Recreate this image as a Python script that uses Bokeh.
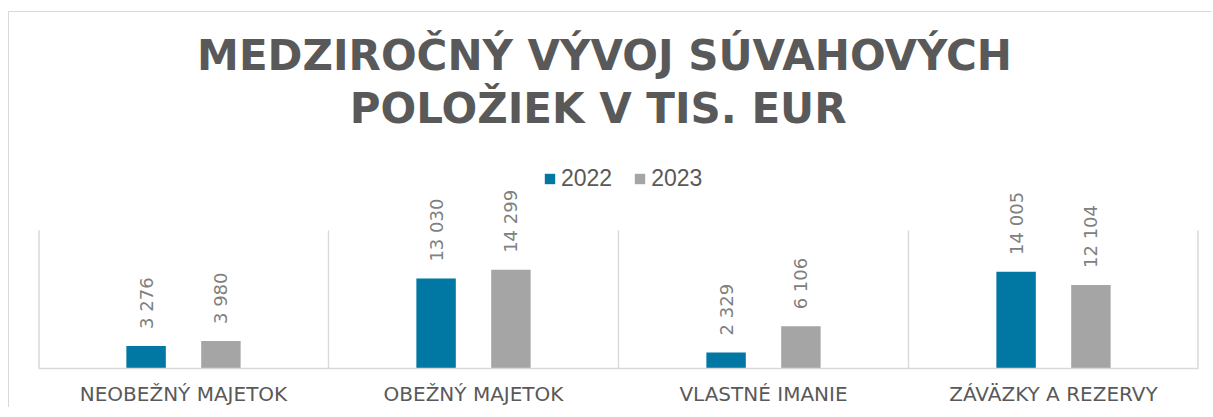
import math
from bokeh.plotting import figure
from bokeh.models import (FactorRange, Range1d, Label, LabelSet, Legend, LegendItem,
                          ColumnDataSource)
from bokeh.transform import dodge
from bokeh.embed import file_html
from bokeh.resources import INLINE
from bokeh.core.properties import value

# ---- data ----
categories = ["NEOBEŽNÝ MAJETOK", "OBEŽNÝ MAJETOK", "VLASTNÉ IMANIE", "ZÁVÄZKY A REZERVY"]
years = ["2022", "2023"]
values_2022 = [3276, 13030, 2329, 14005]
values_2023 = [3980, 14299, 6106, 12104]
title_line1 = "MEDZIROČNÝ VÝVOJ SÚVAHOVÝCH"
title_line2 = "POLOŽIEK  V TIS. EUR"
colors = ["#0078A3", "#A5A5A5"]
y_max = 20000   # top of the value axis (plot area top)


def fmt(v):
    return f"{v:,}".replace(",", " ")


src = ColumnDataSource(dict(
    cat=categories,
    v22=values_2022,
    v23=values_2023,
    t22=[fmt(v) for v in values_2022],
    t23=[fmt(v) for v in values_2023],
))

TEXT = "#595959"
GRID = "#d9d9d9"
FONT = "DejaVu Sans"

# layout (pixels)
frame_h = 351      # drawing area incl. title / legend space
plot_h = 138       # height of the value area (0..y_max)
y_end = y_max * frame_h / plot_h

p = figure(width=1203, height=396,
           x_range=FactorRange(*categories, range_padding=0),
           y_range=Range1d(0, y_end),
           output_backend="svg", toolbar_location=None,
           min_border_left=29, min_border_right=14,
           min_border_top=5, min_border_bottom=40)
p.styles = {"border-left": "1px solid #d9d9d9", "border-top": "1px solid #d9d9d9",
            "margin-top": "11px", "margin-left": "8px"}
p.outline_line_color = None
p.xgrid.grid_line_color = None
p.ygrid.grid_line_color = None
p.yaxis.visible = False
p.background_fill_color = "white"
p.border_fill_color = "white"

# category separators (incl. plot-area edges)
bounds = list(range(0, len(categories) + 1))
p.segment(x0=bounds, y0=0, x1=bounds, y1=y_max, line_color=GRID, line_width=1.4)
p.segment(x0=[0, len(categories)], y0=0, x1=[0, len(categories)], y1=y_max,
          line_color=GRID, line_width=2.6)

off = 0.129
bw = 0.136
r22 = p.vbar(x=dodge("cat", -off, range=p.x_range), top="v22", width=bw, source=src,
             fill_color=colors[0], line_color=None)
r23 = p.vbar(x=dodge("cat", off, range=p.x_range), top="v23", width=bw, source=src,
             fill_color=colors[1], line_color=None)

for col, tcol, o in (("v22", "t22", -off), ("v23", "t23", off)):
    p.add_layout(LabelSet(x=dodge("cat", o, range=p.x_range), y=col, text=tcol, source=src,
                          angle=math.pi / 2, text_align="left", text_baseline="middle",
                          y_offset=17, text_font=value(FONT), text_font_size="18px",
                          text_color="#808080"))

# x axis
p.xaxis.axis_line_color = GRID
p.xaxis.axis_line_width = 1.5
p.xaxis.major_tick_line_color = None
p.xaxis.minor_tick_line_color = None
p.xaxis.major_label_text_font = FONT
p.xaxis.major_label_text_font_size = "20px"
p.xaxis.major_label_text_color = TEXT
p.xaxis.major_label_standoff = 7

# legend
legend = Legend(items=[LegendItem(label=years[0], renderers=[r22]),
                       LegendItem(label=years[1], renderers=[r23])],
                orientation="horizontal", location=(505, 176), padding=0, margin=0,
                spacing=21, label_standoff=5, glyph_width=13, glyph_height=13,
                label_text_font="Liberation Sans", label_text_font_size="23px",
                label_text_color=TEXT, border_line_color=None, background_fill_alpha=0)
p.add_layout(legend, "center")

# title
for txt, yy, xx in ((title_line1, 313, 566), (title_line2, 260, 567)):
    p.add_layout(Label(x=xx, y=yy, x_units="screen", y_units="screen", text=txt,
                       text_align="center", text_baseline="middle",
                       text_font=FONT, text_font_size="42px", text_font_style="bold",
                       text_color=TEXT))

open("out.html", "w").write(file_html(p, INLINE))
